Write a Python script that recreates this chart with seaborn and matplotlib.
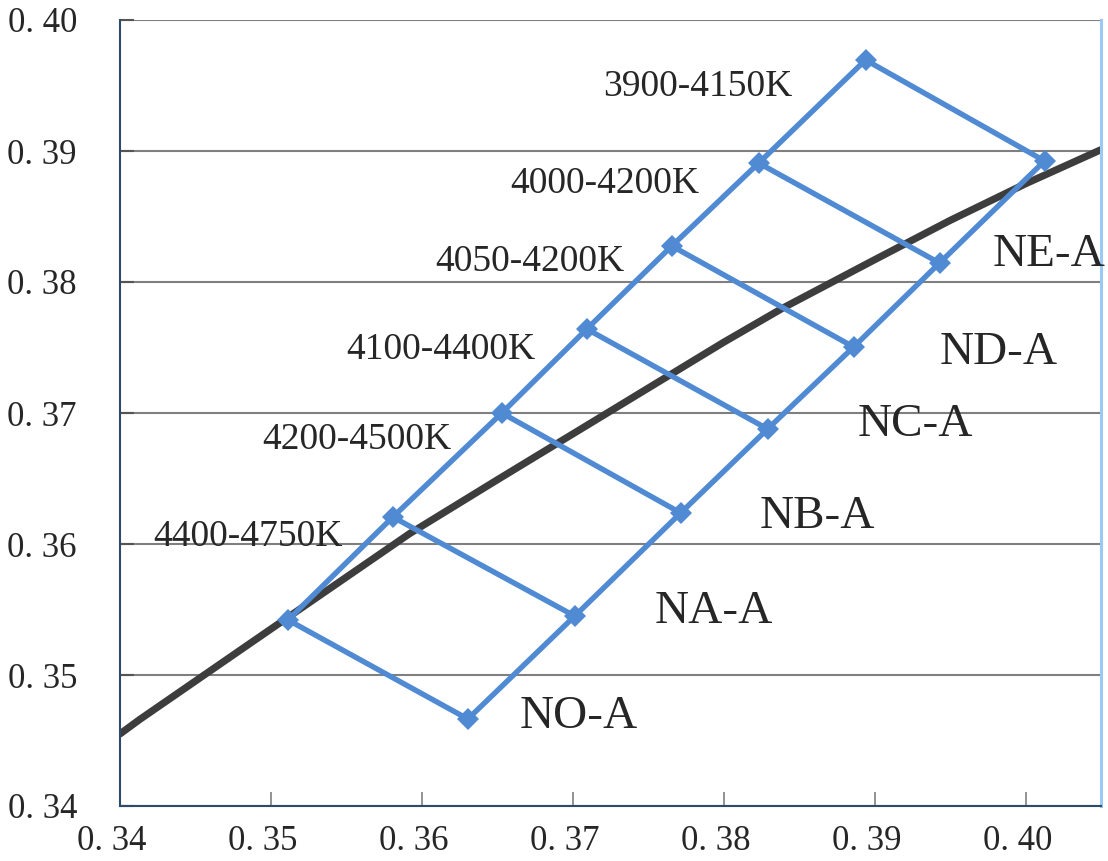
import numpy as np
import pandas as pd
import matplotlib
matplotlib.use("Agg")
import matplotlib.pyplot as plt
import matplotlib.transforms as mtransforms
import seaborn as sns
from matplotlib.ticker import FuncFormatter

sns.set_style("white")
plt.rcParams['font.family'] = ['Liberation Serif', 'DejaVu Serif']

# --- data ---
# black locus curve (x, y)
locus_x = [0.3400, 0.3413, 0.3486, 0.3592, 0.3650, 0.3700, 0.3800, 0.3839, 0.3900, 0.3950, 0.4000, 0.4050]
locus_y = [0.3455, 0.3466, 0.3524, 0.3608, 0.3649, 0.3684, 0.3754, 0.3780, 0.3817, 0.3847, 0.3875, 0.3901]

# bin corner points, warm -> cool (bottom to top)
left_x = [0.35113, 0.35808, 0.36530, 0.37093, 0.37656, 0.38232, 0.38940]
left_y = [0.35420, 0.36206, 0.37000, 0.37641, 0.38275, 0.38908, 0.39695]
right_x = [0.36305, 0.37013, 0.37715, 0.38291, 0.38861, 0.39430, 0.40126]
right_y = [0.34664, 0.35450, 0.36237, 0.36878, 0.37504, 0.38145, 0.38924]

bin_names = ["NO-A", "NA-A", "NB-A", "NC-A", "ND-A", "NE-A"]
bin_label_x = [0.36649, 0.37543, 0.38238, 0.38887, 0.39430, 0.39781]
bin_label_y = [0.34679, 0.35481, 0.36206, 0.36908, 0.37458, 0.38206]

cct_names = ["4400-4750K", "4200-4500K", "4100-4400K", "4050-4200K", "4000-4200K", "3900-4150K"]
cct_label_x = [0.34219, 0.34940, 0.35497, 0.36086, 0.36583, 0.37199]
cct_label_y = [0.36053, 0.36794, 0.37481, 0.38153, 0.38748, 0.39489]

x_ticks = [0.34, 0.35, 0.36, 0.37, 0.38, 0.39, 0.40]
y_ticks = [0.34, 0.35, 0.36, 0.37, 0.38, 0.39, 0.40]

# --- figure ---
blue = "#4F8AD3"
fig = plt.figure(figsize=(11.08, 8.61), dpi=100)
ax = fig.add_axes([120 / 1108, 55 / 861, 981 / 1108, 786 / 861])

sns.lineplot(x=locus_x, y=locus_y, sort=False, color="#3d3d3d", lw=5.2, ax=ax, zorder=2)

# the two long sides of the bin ladder
for xs, ys in [(left_x, left_y), (right_x, right_y)]:
    sns.lineplot(x=xs, y=ys, sort=False, color=blue, lw=3.9, ax=ax, zorder=3,
                 marker="D", markersize=11, markeredgewidth=0)

# rungs between matching corners
rungs = pd.DataFrame({
    "x": [v for pair in zip(left_x, right_x) for v in pair],
    "y": [v for pair in zip(left_y, right_y) for v in pair],
    "rung": [i for i in range(len(left_x)) for _ in range(2)],
})
sns.lineplot(data=rungs, x="x", y="y", units="rung", estimator=None, sort=False,
             color=blue, lw=3.9, ax=ax, zorder=3)

for name, x, y in zip(bin_names, bin_label_x, bin_label_y):
    ax.text(x, y, name, ha="left", va="center", fontsize=34, zorder=4)
for name, x, y in zip(cct_names, cct_label_x, cct_label_y):
    ax.text(x, y, name, ha="left", va="center", fontsize=27, zorder=4)

ax.set_xlim(0.34, 0.405)
ax.set_ylim(0.34, 0.40)
ax.set_xticks(x_ticks)
ax.set_yticks(y_ticks)
fmt = FuncFormatter(lambda v, p: f"{v:.2f}".replace(".", ". "))
ax.xaxis.set_major_formatter(fmt)
ax.yaxis.set_major_formatter(fmt)
ax.set_xlabel("")
ax.set_ylabel("")

ax.yaxis.grid(True, color="#7f7f7f", lw=1.5)
ax.xaxis.grid(False)
ax.set_axisbelow(True)

ax.tick_params(axis="x", direction="in", length=10, width=1.2, color="#808080",
               labelsize=25, pad=14, bottom=True)
ax.tick_params(axis="y", direction="in", length=10, width=1.5, color="#555555",
               labelsize=25, pad=31, left=True)

# x labels sit a little left of their ticks in the original
shift = mtransforms.ScaledTranslation(-8 / 100, 0, fig.dpi_scale_trans)
for lab in ax.get_xticklabels():
    lab.set_transform(lab.get_transform() + shift)

for side in ["left", "bottom"]:
    ax.spines[side].set_color("#2c4a6b")
    ax.spines[side].set_linewidth(1.5)
ax.spines["top"].set_visible(False)
ax.spines["right"].set_color("#9cc8f5")
ax.spines["right"].set_linewidth(2.2)

fig.savefig("out.png", dpi=100)
